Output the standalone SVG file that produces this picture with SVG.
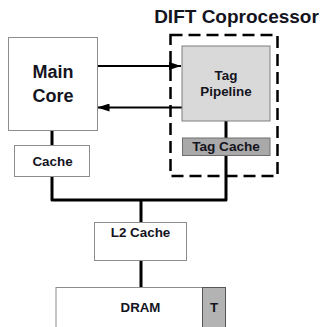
<svg xmlns="http://www.w3.org/2000/svg" width="322" height="327" viewBox="0 0 322 327">
<defs>
<style>
.box{fill:#fff;stroke:#8c8c8c;stroke-width:1}
.t{font-family:"Liberation Sans",Arial,sans-serif;font-weight:bold;fill:#14141e;text-anchor:middle}
.w{fill:none;stroke:#000;stroke-width:3;stroke-linejoin:round}
.a{fill:none;stroke:#000;stroke-width:2}
</style>
<marker id="ah" viewBox="0 0 12 8" refX="12" refY="4" markerWidth="12" markerHeight="8" markerUnits="userSpaceOnUse" orient="auto">
<path d="M0,0 L12,4 L0,8 Z" fill="#000"/>
</marker>
</defs>
<rect width="322" height="327" fill="#fff"/>
<text class="t" x="236.5" y="23" font-size="19">DIFT Coprocessor</text>
<g id="connectors">
<path class="w" d="M52,131 V145"/>
<path class="w" d="M52,177 V200 H226 V156"/>
<path class="w" d="M226,121 V138"/>
<path class="w" d="M141,200 V222.5"/>
<path class="w" d="M141,260.5 V287"/>
<path class="a" d="M97,66 H181" marker-end="url(#ah)"/>
<path class="a" d="M182,107.5 H97.5" marker-end="url(#ah)"/>
</g>
<g id="dift">
<rect x="170.5" y="35" width="107" height="141" fill="none" stroke="#000" stroke-width="2.5" stroke-dasharray="12 6"/>
</g>
<g id="main-core">
<rect class="box" x="8.5" y="37.5" width="89" height="93"/>
<text class="t" x="53" y="78" font-size="18">Main</text>
<text class="t" x="53" y="102" font-size="18">Core</text>
</g>
<g id="cache">
<rect class="box" x="14.5" y="145.5" width="75" height="31"/>
<text class="t" x="52.5" y="166" font-size="13.4">Cache</text>
</g>
<g id="tag-pipeline">
<rect x="182" y="46" width="88" height="75" fill="#d9d9d9" stroke="#7f7f7f" stroke-width="1"/>
<text class="t" x="226" y="80" font-size="13.4">Tag</text>
<text class="t" x="226" y="96" font-size="13.4">Pipeline</text>
</g>
<g id="tag-cache">
<rect x="182.5" y="138" width="87.5" height="17.5" fill="#a9a9a9" stroke="#6e6e6e" stroke-width="1"/>
<text class="t" x="226" y="151" font-size="13.6">Tag Cache</text>
</g>
<g id="l2-cache">
<rect class="box" x="94.5" y="222.5" width="92" height="38"/>
<text class="t" x="140.5" y="237" font-size="13.4">L2 Cache</text>
</g>
<g id="dram">
<rect class="box" x="56" y="287.5" width="169.5" height="45"/>
<text class="t" x="140.5" y="312" font-size="13.3">DRAM</text>
<rect x="202.5" y="287.5" width="23" height="45" fill="#b3b3b3" stroke="#555" stroke-width="1"/>
<text class="t" x="214" y="312" font-size="13.3">T</text>
</g>
</svg>
